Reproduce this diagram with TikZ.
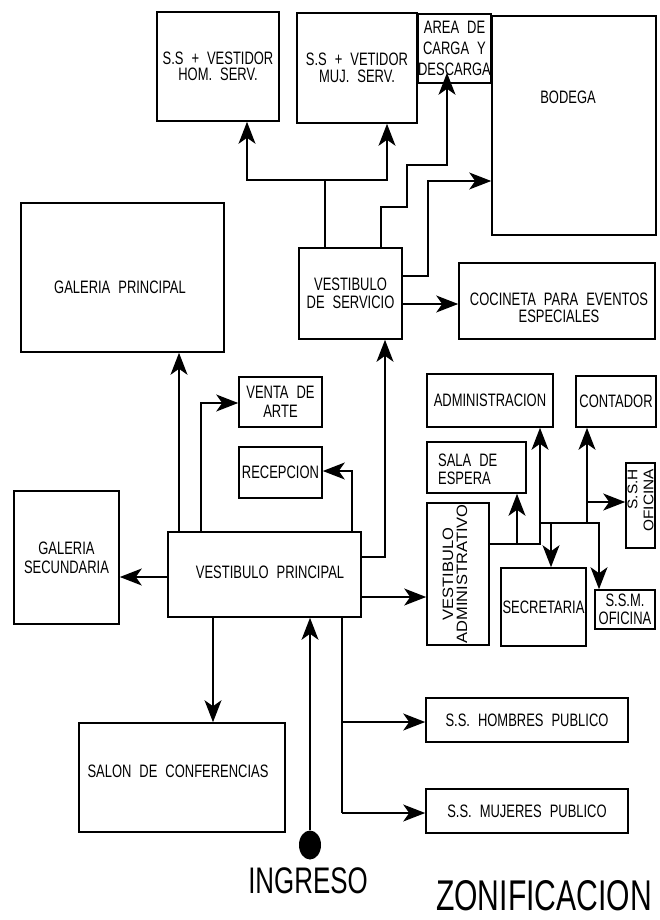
\documentclass[tikz,border=0pt]{standalone}
\usepackage{fontspec}
\setmainfont{Liberation Sans}[FakeStretch=0.72]
\newfontfamily\titlefont{Liberation Sans}[FakeStretch=0.7]
\newfontfamily\widefont{Liberation Sans}[FakeStretch=1.1]
\newcommand\boxfnt[1]{\fontsize{18}{#1}\selectfont\spaceskip=8pt\relax}
\usetikzlibrary{arrows.meta,shapes.geometric}
\begin{document}
\begin{tikzpicture}[x=1pt,y=-1pt,
  box/.style={draw, line width=1.6pt, inner sep=0pt, align=center, font=\boxfnt{18}},
  txt/.style={inner sep=0pt, align=center, font=\boxfnt{18}},
  arr/.style={line width=1.5pt, -{Stealth[length=22pt,width=17pt,inset=6pt]}},
  ln/.style={line width=1.5pt}]
\fill[white] (0,0) rectangle (659,920);
\useasboundingbox (0,0) rectangle (659,920);

% boxes
\node[box, minimum width=122, minimum height=109, font=\boxfnt{16.5}] (hom) at (218,66.5) {S.S + VESTIDOR\\HOM. SERV.};
\node[box, minimum width=120, minimum height=110, font=\boxfnt{16.5}] (muj) at (357,68) {S.S + VETIDOR\\MUJ. SERV.};
\node[box, minimum width=57, minimum height=69, font=\boxfnt{21}] (area) at (454.5,48.5) {AREA DE\\CARGA Y\\DESCARGA};
\node[box, minimum width=164, minimum height=219] (bod) at (574,125.5) {};
\node[txt] (tbod) at (568,97) {BODEGA};
\node[box, minimum width=203, minimum height=149] (galp) at (122.5,277.5) {};
\node[txt] (tgalp) at (120,287) {GALERIA PRINCIPAL};
\node[box, minimum width=103, minimum height=91, font=\boxfnt{18}] (vs) at (350.5,293.5) {VESTIBULO\\DE SERVICIO};
\node[box, minimum width=196, minimum height=76] (coc) at (557,301) {};
\node[txt, font=\boxfnt{16.5}] (tcoc) at (559,308) {COCINETA PARA EVENTOS\\ESPECIALES};
\node[box, minimum width=126, minimum height=53] (admin) at (490,400.5) {ADMINISTRACION};
\node[box, minimum width=80, minimum height=51] (cont) at (616,401.5) {CONTADOR};
\node[box, minimum width=83, minimum height=50, font=\boxfnt{19}] (venta) at (280.5,402) {VENTA DE\\ARTE};
\node[box, minimum width=83, minimum height=51] (rec) at (280.5,472.5) {RECEPCION};
\node[box, minimum width=99, minimum height=51] (sala) at (476.5,467.5) {};
\node[txt, anchor=west, align=left, font=\boxfnt{18}] (tsala) at (438,469) {SALA DE\\ESPERA};
\node[box, minimum width=29, minimum height=85] (ssh) at (640.5,505.5) {};
\node[txt, rotate=90, anchor=east, align=right, font=\widefont\fontsize{14}{16}\selectfont] (tssh) at (640.5,469) {S.S.H\\OFICINA};
\node[box, minimum width=62, minimum height=142] (va) at (458,574) {};
\node[txt, rotate=90, font=\widefont\fontsize{15}{14}\selectfont] (tva) at (455,574) {VESTIBULO\\ADMINISTRATIVO};
\node[box, minimum width=193, minimum height=85] (vp) at (264.5,574.5) {};
\node[txt] (tvp) at (270,572) {VESTIBULO PRINCIPAL};
\node[box, minimum width=105, minimum height=133, font=\boxfnt{19}] (gs) at (66.5,557.5) {GALERIA\\SECUNDARIA};
\node[box, minimum width=85, minimum height=78] (sec) at (543.5,607) {SECRETARIA};
\node[box, minimum width=60, minimum height=39, font=\boxfnt{18}] (ssm) at (625,609.5) {S.S.M.\\OFICINA};
\node[box, minimum width=206, minimum height=109] (salon) at (182,777.5) {};
\node[txt] (tsalon) at (178,771) {SALON DE CONFERENCIAS};
\node[box, minimum width=202, minimum height=44] (hpub) at (527,720) {S.S. HOMBRES PUBLICO};
\node[box, minimum width=202, minimum height=44] (mpub) at (527,811) {S.S. MUJERES PUBLICO};
\node[fill=black, ellipse, minimum width=22, minimum height=29, inner sep=0pt] (dot) at (310,845) {};
\node[inner sep=0pt, font=\titlefont\fontsize{37}{37}\selectfont] (ing) at (308,881) {INGRESO};
\node[inner sep=0pt, font=\titlefont\fontsize{43}{43}\selectfont] (zon) at (544,896) {ZONIFICACION};

% junction coordinates
\coordinate (c1) at (247,180); \coordinate (c2) at (387,180); \coordinate (c3) at (325,180);
\coordinate (d1) at (381,207); \coordinate (d2) at (407,207); \coordinate (d3) at (407,165); \coordinate (d4) at (447,165);
\coordinate (e1) at (428,276); \coordinate (e2) at (428,181);
\coordinate (f1) at (430,304);
\coordinate (g1) at (179,400);
\coordinate (h1) at (201,403);
\coordinate (i1) at (352,471);
\coordinate (k1) at (385,557);
\coordinate (l1) at (140,577);
\coordinate (m1) at (400,597);
\coordinate (n1) at (213,700);
\coordinate (o1) at (342,722); \coordinate (o2) at (342,813);
\coordinate (p1) at (540,544); \coordinate (p2) at (540,523); \coordinate (p3) at (599,523);
\coordinate (p4) at (517,544); \coordinate (p5) at (551,523); \coordinate (p6) at (587,523); \coordinate (p7) at (587,502);

% service vestibule
\draw[ln] (vs.north -| c3) -- (c3);
\draw[arr] (c3) -- (c1) -- (hom.south -| c1);
\draw[arr] (c3) -- (c2) -- (muj.south -| c2);
\draw[arr, shorten >=-11pt] (vs.north -| d1) -- (d1) -- (d2) -- (d3) -- (d4) -- (area.south -| d4);
\draw[arr] (vs.east |- e1) -- (e1) -- (e2) -- (bod.west |- e2);
\draw[arr] (vs.east |- f1) -- (coc.west |- f1);

% main vestibule
\draw[arr] (vp.north -| g1) -- (galp.south -| g1);
\draw[arr] (vp.north -| h1) -- (h1) -- (venta.west |- h1);
\draw[arr] (vp.north -| i1) -- (i1) -- (rec.east |- i1);
\draw[arr] (vp.east |- k1) -- (k1) -- (vs.south -| k1);
\draw[arr] (vp.west |- l1) -- (gs.east |- l1);
\draw[arr] (vp.east |- m1) -- (va.west |- m1);
\draw[arr] (vp.south -| n1) -- (salon.north -| n1);
\draw[ln] (vp.south -| o1) -- (o2);
\draw[arr] (o1) -- (hpub.west |- o1);
\draw[arr] (o2) -- (mpub.west |- o2);
\draw[arr] (dot.north) -- (vp.south -| dot);

% administrative vestibule
\draw[arr] (va.east |- p1) -- (p1) -- (p2) -- (p3) -- (ssm.north -| p3);
\draw[arr] (p4) -- (sala.south -| p4);
\draw[arr] (p2) -- (admin.south -| p2);
\draw[arr] (p5) -- (sec.north -| p5);
\draw[arr] (p6) -- (cont.south -| p6);
\draw[arr] (p7) -- (ssh.west |- p7);
\end{tikzpicture}
\end{document}
